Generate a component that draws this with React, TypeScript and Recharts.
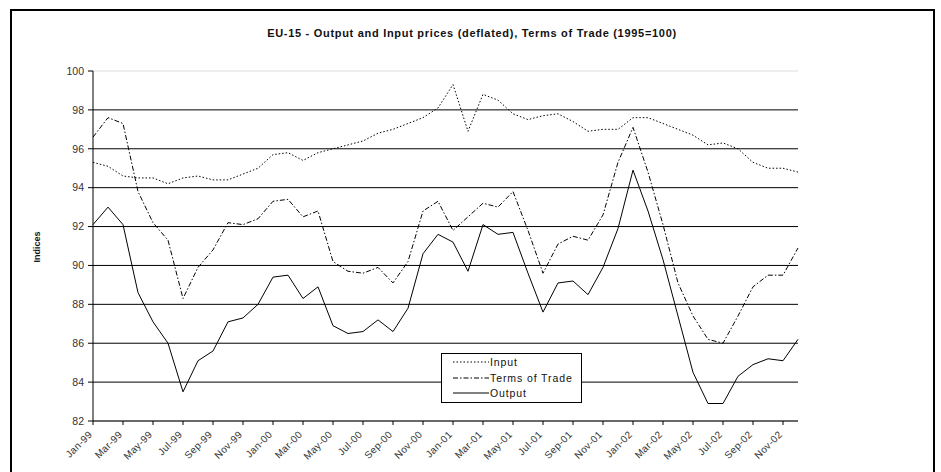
import { LineChart, Line, XAxis, YAxis, CartesianGrid, ReferenceLine } from "recharts";

const months = [
    "Jan-99", "Feb-99", "Mar-99", "Apr-99", "May-99", "Jun-99", "Jul-99", "Aug-99", "Sep-99", "Oct-99", "Nov-99", "Dec-99",
    "Jan-00", "Feb-00", "Mar-00", "Apr-00", "May-00", "Jun-00", "Jul-00", "Aug-00", "Sep-00", "Oct-00", "Nov-00", "Dec-00",
    "Jan-01", "Feb-01", "Mar-01", "Apr-01", "May-01", "Jun-01", "Jul-01", "Aug-01", "Sep-01", "Oct-01", "Nov-01", "Dec-01",
    "Jan-02", "Feb-02", "Mar-02", "Apr-02", "May-02", "Jun-02", "Jul-02", "Aug-02", "Sep-02", "Oct-02", "Nov-02", "Dec-02",
];

const input = [
    95.3, 95.1, 94.6, 94.5, 94.5, 94.2, 94.5, 94.6, 94.4, 94.4, 94.7, 95.0,
    95.7, 95.8, 95.4, 95.8, 96.0, 96.2, 96.4, 96.8, 97.0, 97.3, 97.6, 98.1,
    99.3, 96.9, 98.8, 98.5, 97.8, 97.5, 97.7, 97.8, 97.4, 96.9, 97.0, 97.0,
    97.6, 97.6, 97.3, 97.0, 96.7, 96.2, 96.3, 96.0, 95.3, 95.0, 95.0, 94.8,
];

const termsOfTrade = [
    96.6, 97.6, 97.3, 93.8, 92.2, 91.3, 88.3, 89.9, 90.8, 92.2, 92.1, 92.4,
    93.3, 93.4, 92.5, 92.8, 90.2, 89.7, 89.6, 89.9, 89.1, 90.2, 92.8, 93.3,
    91.8, 92.5, 93.2, 93.0, 93.8, 91.8, 89.6, 91.1, 91.5, 91.3, 92.6, 95.3,
    97.1, 94.8, 92.1, 89.1, 87.4, 86.2, 86.0, 87.4, 88.9, 89.5, 89.5, 90.9,
];

const output = [
    92.1, 93.0, 92.1, 88.6, 87.1, 86.0, 83.5, 85.1, 85.6, 87.1, 87.3, 88.0,
    89.4, 89.5, 88.3, 88.9, 86.9, 86.5, 86.6, 87.2, 86.6, 87.8, 90.6, 91.6,
    91.2, 89.7, 92.1, 91.6, 91.7, 89.6, 87.6, 89.1, 89.2, 88.5, 89.9, 91.9,
    94.9, 92.8, 90.3, 87.4, 84.5, 82.9, 82.9, 84.3, 84.9, 85.2, 85.1, 86.2,
];

const yTicks = [82, 84, 86, 88, 90, 92, 94, 96, 98, 100];

const data = months.map((m, i) => ({
    month: m,
    input: input[i],
    tot: termsOfTrade[i],
    output: output[i],
}));

const FONT = "'Liberation Sans', Arial, sans-serif";
const DOTTED = "1.5 2";
const DASHDOT = "5 2 1.5 2";

const MonthTick = ({ x, y, payload }: any) => (
    <text
        x={x}
        y={y + 8}
        transform={`rotate(-45 ${x} ${y + 8})`}
        textAnchor="end"
        fontSize={10}
        letterSpacing={0.4}
        fontFamily={FONT}
        fill="#333"
    >
        {payload.value}
    </text>
);

const legendItems = [
    { label: "Input", dash: DOTTED },
    { label: "Terms of Trade", dash: DASHDOT },
    { label: "Output", dash: undefined },
];

// legend drawn as an overlay so it doesn't eat into the plot area
const LegendBox = () => (
    <div style={{ position: "absolute", left: 441, top: 353, width: 139, height: 48, border: "1px solid #000", background: "#fff", fontFamily: FONT, fontSize: 10.5, letterSpacing: 0.9 }}>
        {legendItems.map((item, i) => (
            <div key={i} style={{ position: "absolute", left: 11, top: 1 + i * 15.5, height: 14, display: "flex", alignItems: "center" }}>
                <svg width={36} height={6}>
                    <line x1={0} y1={3} x2={36} y2={3} stroke="#000" strokeWidth={1} strokeDasharray={item.dash} />
                </svg>
                <span style={{ marginLeft: 1, color: "#111" }}>{item.label}</span>
            </div>
        ))}
    </div>
);

export default function App() {
    return (
        <div style={{ position: "absolute", left: 0, top: 0, width: 941, height: 472, background: "#fff", overflow: "hidden" }}>
            <div style={{ position: "absolute", left: 10, top: 9, width: 921, height: 480, border: "2px solid #000" }} />
            <div style={{ position: "absolute", left: 0, top: 27, width: 944, textAlign: "center", fontFamily: FONT, fontSize: 11, fontWeight: "bold", letterSpacing: 0.7, color: "#111" }}>
                EU-15 - Output and Input prices (deflated), Terms of Trade (1995=100)
            </div>
            <div style={{ position: "absolute", left: 37, top: 247, transform: "translate(-50%, -50%) rotate(-90deg)", fontFamily: FONT, fontSize: 9, fontWeight: "bold", color: "#111" }}>
                Indices
            </div>
            <LineChart width={941} height={472} data={data} margin={{ top: 71, right: 143, left: 33, bottom: 0 }} style={{ position: "absolute", left: 0, top: 0 }}>
                <CartesianGrid vertical={false} horizontalValues={[82, 84, 86, 88, 90, 92, 94, 96, 98]} stroke="#000" strokeOpacity={1} />
                <ReferenceLine y={100} stroke="#ddd" />
                <XAxis
                    dataKey="month"
                    interval={1}
                    height={51}
                    tick={<MonthTick />}
                    tickSize={4}
                    stroke="#000"
                    axisLine={{ stroke: "#555" }}
                />
                <YAxis
                    domain={[82, 100]}
                    ticks={yTicks}
                    width={60}
                    tickSize={5}
                    tickMargin={4}
                    stroke="#000"
                    tick={{ fontSize: 10.5, fill: "#333", fontFamily: FONT }}
                />
                <Line type="linear" dataKey="input" name="Input" stroke="#000" strokeWidth={1} strokeDasharray={DOTTED} dot={false} isAnimationActive={false} />
                <Line type="linear" dataKey="tot" name="Terms of Trade" stroke="#000" strokeWidth={1} strokeDasharray={DASHDOT} dot={false} isAnimationActive={false} />
                <Line type="linear" dataKey="output" name="Output" stroke="#000" strokeWidth={1} dot={false} isAnimationActive={false} />
            </LineChart>
            <LegendBox />
        </div>
    );
}
